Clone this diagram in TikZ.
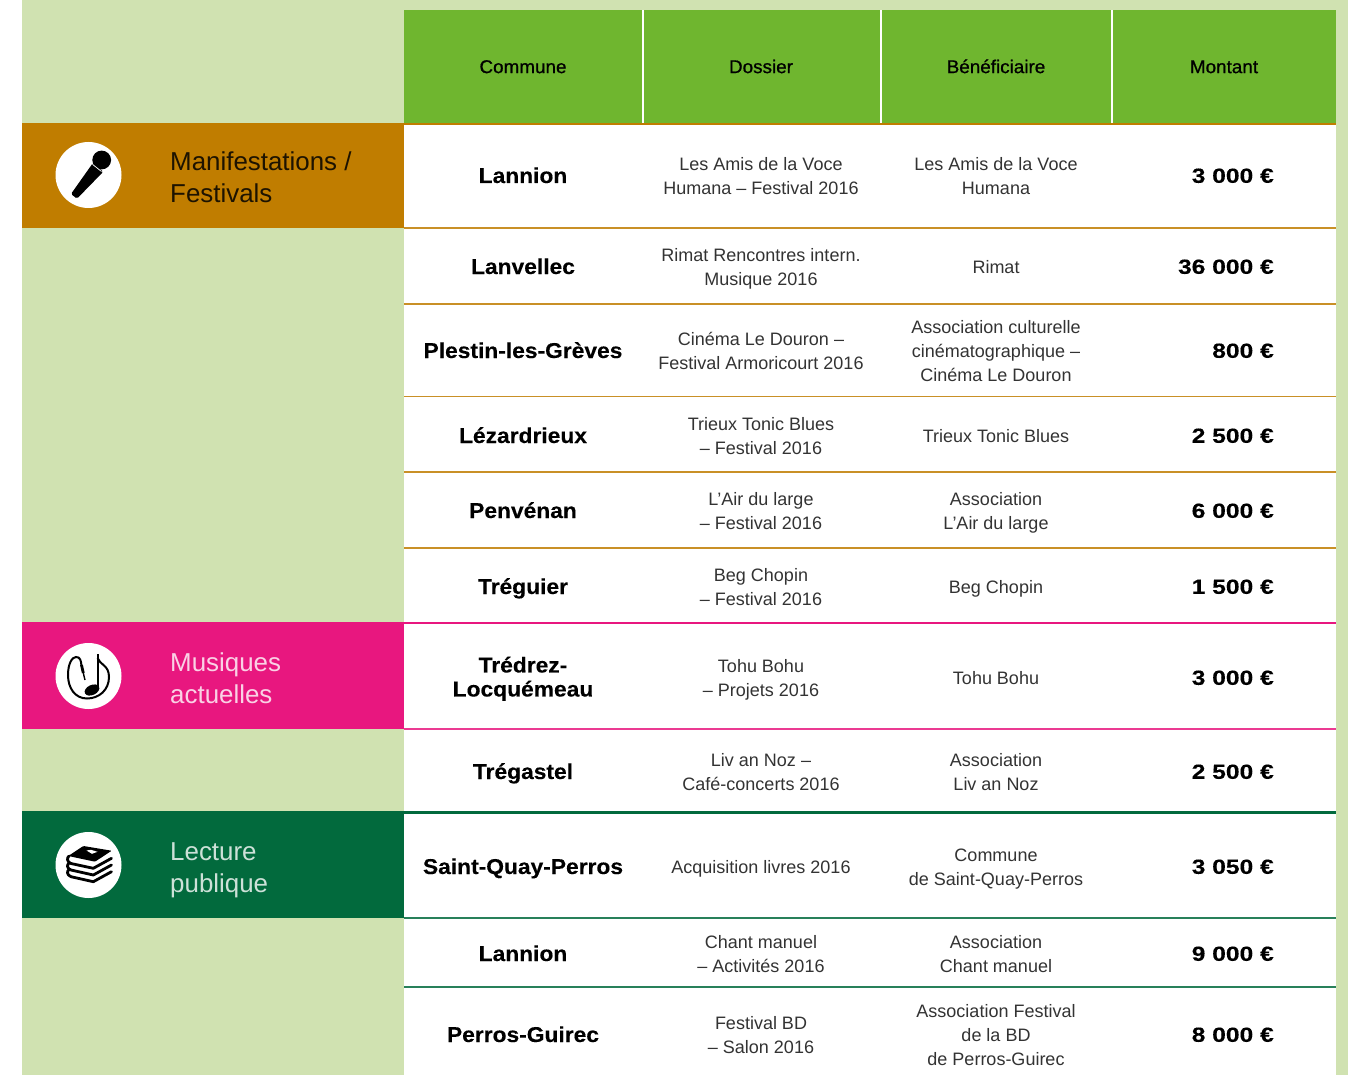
\documentclass[tikz,border=0pt]{standalone}
\usepackage{fontspec}
\setmainfont{Liberation Sans}
\newfontfamily\hdrfont[FakeBold=0.8,FakeStretch=1.02]{Liberation Sans}
\newfontfamily\namefont[FakeBold=0.2,FakeStretch=1.06]{Liberation Sans Bold}
\newfontfamily\sumfont[FakeBold=0.2,FakeStretch=1.2]{Liberation Sans Bold}
\definecolor{pagegreen}{HTML}{D0E2B1}
\definecolor{headgreen}{HTML}{6FB62F}
\definecolor{festo}{HTML}{C07D00}
\definecolor{musp}{HTML}{E8177F}
\definecolor{lecg}{HTML}{026A3D}
\definecolor{bodygrey}{HTML}{333333}
\tikzset{
  x=1pt,y=-1pt,
  band/.style={fill=#1,draw=none},
  rowline/.style={draw=#1!85!white,line width=1.3pt},
  mainline/.style={draw=#1,line width=2.4pt},
  divider/.style={draw=white,line width=2pt},
  struts/.style={execute at begin node=\strut,execute at end node=\strut},
  headtxt/.style={font=\hdrfont\fontsize{18.5}{24}\selectfont,text=black,inner sep=0pt,struts,yshift=-1.8pt},
  commune/.style={font=\namefont\fontsize{21.5}{24}\selectfont,text=black,align=center,inner sep=0pt,struts,yshift=-2.2pt},
  cell/.style={font=\fontsize{18}{24}\selectfont,text=bodygrey,align=center,inner sep=0pt,struts,yshift=-1.7pt},
  cellm/.style={cell,yshift=-2pt},
  amount/.style={font=\sumfont\fontsize{20.5}{24}\selectfont,text=black,anchor=east,inner sep=0pt,struts,yshift=-2pt},
  bandtxt/.style={font=\fontsize{25.9}{32}\selectfont,text=#1,align=left,anchor=west,inner sep=0pt,struts,yshift=-2.6pt},
  badge/.style={circle,fill=white,minimum size=66pt,inner sep=0pt,draw=none}
}
\begin{document}
\begin{tikzpicture}
\useasboundingbox (0,0) rectangle (1348,1075);
\fill[white] (0,0) rectangle (1348,1075);
\fill[pagegreen] (22,0) rectangle (1348,1075);
\fill[white] (404,123) rectangle (1336,1075);
\fill[headgreen] (404,10) rectangle (1336,123);
\draw[divider] (642.5,10) -- (642.5,123);
\draw[divider] (880.5,10) -- (880.5,123);
\draw[divider] (1111.5,10) -- (1111.5,123);
% bands
\fill[band=festo] (22,123) rectangle (404,228);
\fill[band=musp] (22,622) rectangle (404,729);
\fill[band=lecg] (22,811) rectangle (404,918);
% rules
\draw[mainline=festo] (404,124) -- (1336,124);
\draw[rowline=festo] (404,228) -- (1336,228);
\draw[rowline=festo] (404,304) -- (1336,304);
\draw[rowline=festo] (404,396.5) -- (1336,396.5);
\draw[rowline=festo] (404,472) -- (1336,472);
\draw[rowline=festo] (404,548) -- (1336,548);
\draw[mainline=musp] (404,623) -- (1336,623);
\draw[rowline=musp] (404,729) -- (1336,729);
\draw[mainline=lecg] (404,812.5) -- (1336,812.5);
\draw[rowline=lecg] (404,918) -- (1336,918);
\draw[rowline=lecg] (404,987) -- (1336,987);
% header
\node[headtxt] (h1) at (523,66.5) {Commune};
\node[headtxt] (h2) at (761,66.5) {Dossier};
\node[headtxt] (h3) at (996,66.5) {Bénéficiaire};
\node[headtxt] (h4) at (1224,66.5) {Montant};
% band labels
\node[bandtxt=black!85!festo] (bl1) at (170,179) {Manifestations /\\Festivals};
\node[bandtxt=white!80!musp] (bl2) at (170,680) {Musiques\\actuelles};
\node[bandtxt=white!80!lecg] (bl3) at (170,870) {Lecture\\publique};
% badges
\node[badge] (b1) at (88.5,175) {};
\node[badge] (b2) at (88.5,676) {};
\node[badge] (b3) at (88.5,865) {};
% microphone
\fill[black,rounded corners=1.5pt] (71,194) -- (92.7,163.3) -- (103.3,171.7) -- (77,198.7) -- cycle;
\fill[black] (101.7,160) circle (9.4);
\draw[white,line width=0.7pt] (92.7,164.5) -- (101.5,171.5);
% music note with cable
\fill[black,rotate around={25:(92,690)}] (92,690) ellipse (7.8 and 5);
\draw[black,line width=2pt] (97.5,654) -- (97.5,689);
\draw[black,line width=2pt] (97.5,658) .. controls (100,665) and (109,665) .. (109,677) .. controls (109,690) and (99,698.5) .. (87,698.5) .. controls (75,698.5) and (68,688) .. (68,675) .. controls (68,664) and (72,657) .. (76,657) .. controls (80,657) and (81,660) .. (81.5,666);
\draw[black,line width=2.8pt] (81.5,665) -- (83.3,673);
\draw[black,line width=1.4pt] (83.3,673) -- (85,680);
% stack of books
\fill[black,rounded corners=1pt] (68.3,856) -- (83.3,846) -- (111.7,850.7) -- (95,861.7) -- cycle;
\fill[white] (86.5,850.5) -- (91,849.8) -- (97.5,851.8) -- (92,853.8) -- cycle;
\draw[black,line width=2.8pt,line cap=round,line join=round] (111.5,858.3) -- (93.3,868.3) -- (71,863.5) .. controls (67,862) and (66.5,858) .. (69,856);
\draw[black,line width=2.8pt,line cap=round,line join=round] (111.5,865) -- (93.3,875) -- (71,870) .. controls (67,868.5) and (66.5,865) .. (69,863);
\draw[black,line width=2.8pt,line cap=round,line join=round] (111.5,871.7) -- (93.3,881.7) -- (71,876.7) .. controls (67,875) and (66.5,871.5) .. (69,869.5);
% rows
\node[commune] (c1) at (523,176) {Lannion};
\node[cellm] (d1) at (761,176) {Les Amis de la Voce\\Humana – Festival 2016};
\node[cellm] (e1) at (996,176) {Les Amis de la Voce\\Humana};
\node[amount] (m1) at (1274,176) {3 000 €};
\node[commune] (c2) at (523,267) {Lanvellec};
\node[cellm] (d2) at (761,267) {Rimat Rencontres intern.\\Musique 2016};
\node[cell] (e2) at (996,267) {Rimat};
\node[amount] (m2) at (1274,267) {36 000 €};
\node[commune] (c3) at (523,351) {Plestin-les-Grèves};
\node[cellm] (d3) at (761,351) {Cinéma Le Douron –\\Festival Armoricourt 2016};
\node[cellm] (e3) at (996,351) {Association culturelle\\cinématographique –\\Cinéma Le Douron};
\node[amount] (m3) at (1274,351) {800 €};
\node[commune] (c4) at (523,436) {Lézardrieux};
\node[cellm] (d4) at (761,436) {Trieux Tonic Blues\\– Festival 2016};
\node[cell] (e4) at (996,436) {Trieux Tonic Blues};
\node[amount] (m4) at (1274,436) {2 500 €};
\node[commune] (c5) at (523,511) {Penvénan};
\node[cellm] (d5) at (761,511) {L'Air du large\\– Festival 2016};
\node[cellm] (e5) at (996,511) {Association\\L'Air du large};
\node[amount] (m5) at (1274,511) {6 000 €};
\node[commune] (c6) at (523,587) {Tréguier};
\node[cellm] (d6) at (761,587) {Beg Chopin\\– Festival 2016};
\node[cell] (e6) at (996,587) {Beg Chopin};
\node[amount] (m6) at (1274,587) {1 500 €};
\node[commune] (c7) at (523,678) {Trédrez-\\Locquémeau};
\node[cellm] (d7) at (761,678) {Tohu Bohu\\– Projets 2016};
\node[cell] (e7) at (996,678) {Tohu Bohu};
\node[amount] (m7) at (1274,678) {3 000 €};
\node[commune] (c8) at (523,772) {Trégastel};
\node[cellm] (d8) at (761,772) {Liv an Noz –\\Café-concerts 2016};
\node[cellm] (e8) at (996,772) {Association\\Liv an Noz};
\node[amount] (m8) at (1274,772) {2 500 €};
\node[commune] (c9) at (523,867) {Saint-Quay-Perros};
\node[cell] (d9) at (761,867) {Acquisition livres 2016};
\node[cellm] (e9) at (996,867) {Commune\\de Saint-Quay-Perros};
\node[amount] (m9) at (1274,867) {3 050 €};
\node[commune] (c10) at (523,954) {Lannion};
\node[cellm] (d10) at (761,954) {Chant manuel\\– Activités 2016};
\node[cellm] (e10) at (996,954) {Association\\Chant manuel};
\node[amount] (m10) at (1274,954) {9 000 €};
\node[commune] (c11) at (523,1035) {Perros-Guirec};
\node[cellm] (d11) at (761,1035) {Festival BD\\– Salon 2016};
\node[cellm] (e11) at (996,1035) {Association Festival\\de la BD\\de Perros-Guirec};
\node[amount] (m11) at (1274,1035) {8 000 €};
\end{tikzpicture}
\end{document}
